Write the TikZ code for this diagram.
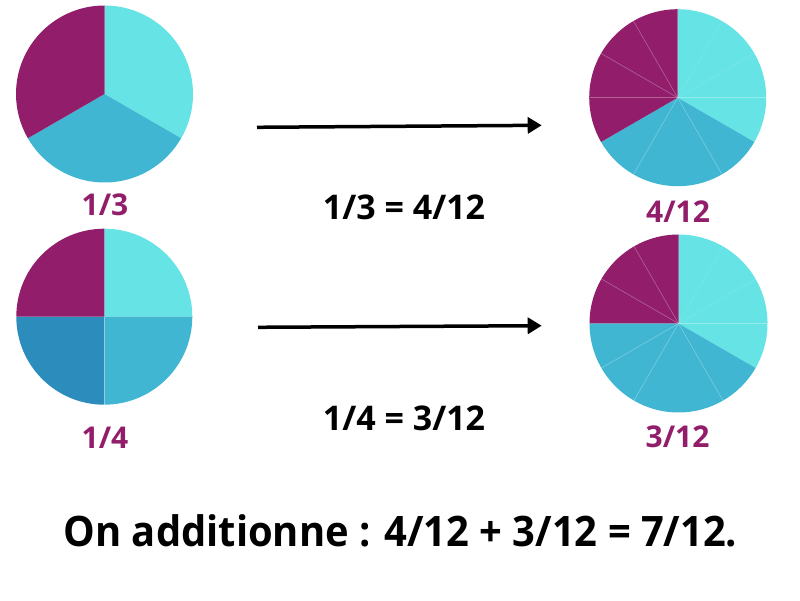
\documentclass[tikz,border=0pt]{standalone}
\usepackage{fontspec}
\setmainfont{Open Sans}
\usetikzlibrary{arrows.meta}
\definecolor{mag}{HTML}{921E6B}
\definecolor{lcyan}{HTML}{66E3E4}
\definecolor{mblue}{HTML}{40B6D2}
\definecolor{dblue}{HTML}{2C8CBC}
\newcommand\pieslice[5]{\fill[#5] (#1) -- ++(#3:#2) arc[start angle=#3, end angle=#4, radius=#2] -- cycle;}
\begin{document}
\begin{tikzpicture}[x=1pt,y=1pt,
  fraclabel/.style={font=\bfseries\fontsize{30}{36}\selectfont, text=mag, anchor=base, inner sep=0pt},
  eqlabel/.style={font=\bfseries\fontsize{34}{40}\selectfont, text=black, anchor=base, inner sep=0pt},
  sumlabel/.style={font=\bfseries\fontsize{42}{48}\selectfont, text=black, anchor=base, inner sep=0pt},
  arr/.style={line width=3.5pt, -{Triangle[length=14pt,width=16pt]}},
  slice/.style={draw=white, draw opacity=0.3, line width=0.6pt},
  faintslice/.style={draw=white, draw opacity=0.12, line width=0.6pt}]
\useasboundingbox (0,0) rectangle (800,600);
\fill[white] (0,0) rectangle (800,600);
% centres
\coordinate (p1) at (104.5,506);
\coordinate (p2) at (677.7,502.3);
\coordinate (p3) at (104.3,283.3);
\coordinate (p4) at (678.5,276.5);
% pie 1/3
\pieslice{p1}{88.5}{-30}{90}{lcyan}
\pieslice{p1}{88.5}{-150}{-30}{mblue}
\pieslice{p1}{88.5}{90}{210}{mag}
% pie 4/12
\pieslice{p2}{88.5}{-30}{90}{lcyan}
\pieslice{p2}{88.5}{-150}{-30}{mblue}
\pieslice{p2}{88.5}{90}{210}{mag}
\foreach \a in {0,120,150,180,-60,-120}
  \draw[slice] (p2) -- ++(\a:88.5);
\foreach \a in {30,60}
  \draw[faintslice] (p2) -- ++(\a:88.5);
% pie 1/4
\pieslice{p3}{88}{0}{90}{lcyan}
\pieslice{p3}{88}{-90}{0}{mblue}
\pieslice{p3}{88}{180}{270}{dblue}
\pieslice{p3}{88}{90}{180}{mag}
\draw[slice] (p3) -- ++(-90:88);
% pie 3/12
\pieslice{p4}{89}{-30}{90}{lcyan}
\pieslice{p4}{89}{-180}{-30}{mblue}
\pieslice{p4}{89}{90}{180}{mag}
\foreach \a in {0,120,150,-60,-120,-150}
  \draw[slice] (p4) -- ++(\a:89);
\foreach \a in {30,60}
  \draw[faintslice] (p4) -- ++(\a:89);
% arrows
\coordinate (a1s) at (257,472.7);
\coordinate (a1e) at (541.7,474.7);
\coordinate (a2s) at (258,272.7);
\coordinate (a2e) at (541.7,274.3);
\draw[arr] (a1s) -- (a1e);
\draw[arr] (a2s) -- (a2e);
% labels
\node[fraclabel] (l1) at (105,384) {1/3};
\node[fraclabel] (l2) at (678,377) {4/12};
\node[fraclabel] (l3) at (105,152) {1/4};
\node[fraclabel] (l4) at (677.5,152.3) {3/12};
\node[eqlabel] (e1) at (404,380) {1/3 = 4/12};
\node[eqlabel] (e2) at (404,169) {1/4 = 3/12};
\node[sumlabel] (s) at (400.5,54) {\scalebox{0.95}[1]{On additionne : 4/12 + 3/12 = 7/12.}};
\end{tikzpicture}
\end{document}
